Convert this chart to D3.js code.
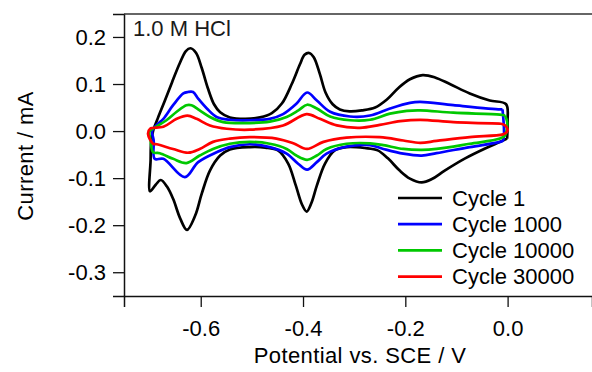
<!DOCTYPE html>
<html>
<head>
<meta charset="utf-8">
<script src="https://cdn.jsdelivr.net/npm/d3@7"></script>
<style>
  body { margin: 0; background: #fff; }
  svg { display: block; font-family: "Liberation Sans", Arial, sans-serif; }
</style>
</head>
<body>
<svg id="cv" width="592" height="372"></svg>
<script>
// potential (V vs SCE), current (mA) pairs, each loop read around the CV
let cycle1 = [
  [-0.001, -0.016], [-0.015, -0.023], [-0.044, -0.037], [-0.083, -0.058], [-0.123, -0.084],
  [-0.148, -0.102], [-0.168, -0.109], [-0.191, -0.101], [-0.211, -0.084], [-0.234, -0.058],
  [-0.254, -0.041], [-0.279, -0.036], [-0.314, -0.034], [-0.338, -0.041], [-0.357, -0.069],
  [-0.373, -0.116], [-0.384, -0.154], [-0.393, -0.171], [-0.402, -0.156], [-0.414, -0.116],
  [-0.429, -0.069], [-0.449, -0.041], [-0.474, -0.035], [-0.504, -0.034], [-0.543, -0.039],
  [-0.562, -0.052], [-0.582, -0.084], [-0.598, -0.133], [-0.611, -0.180], [-0.627, -0.210],
  [-0.640, -0.186], [-0.654, -0.144], [-0.666, -0.118], [-0.678, -0.104], [-0.688, -0.114],
  [-0.699, -0.128], [-0.698, -0.062], [-0.697, -0.024], [-0.693, 0.001], [-0.684, 0.027],
  [-0.670, 0.065], [-0.656, 0.104], [-0.641, 0.144], [-0.629, 0.170], [-0.620, 0.176],
  [-0.609, 0.166], [-0.598, 0.134], [-0.586, 0.091], [-0.574, 0.057], [-0.562, 0.040],
  [-0.543, 0.029], [-0.513, 0.026], [-0.484, 0.029], [-0.461, 0.038], [-0.441, 0.059],
  [-0.422, 0.100], [-0.406, 0.142], [-0.397, 0.162], [-0.388, 0.166], [-0.379, 0.157],
  [-0.367, 0.121], [-0.356, 0.082], [-0.342, 0.057], [-0.328, 0.046], [-0.309, 0.042],
  [-0.285, 0.044], [-0.259, 0.050], [-0.236, 0.067], [-0.214, 0.091], [-0.191, 0.110],
  [-0.166, 0.119], [-0.142, 0.114], [-0.113, 0.100], [-0.074, 0.080], [-0.035, 0.065],
  [-0.003, 0.057], [0.000, 0.023], [-0.001, -0.016]
];

let cycle1000 = [
  [-0.010, 0.046], [-0.009, -0.020], [-0.015, -0.023], [-0.074, -0.034], [-0.139, -0.047],
  [-0.168, -0.052], [-0.204, -0.048], [-0.243, -0.038], [-0.269, -0.030], [-0.315, -0.033],
  [-0.354, -0.048], [-0.373, -0.066], [-0.392, -0.082], [-0.409, -0.070], [-0.432, -0.048],
  [-0.465, -0.034], [-0.504, -0.028], [-0.543, -0.034], [-0.569, -0.045], [-0.605, -0.066],
  [-0.631, -0.098], [-0.673, -0.059], [-0.690, -0.059], [-0.692, -0.020], [-0.695, 0.001],
  [-0.685, 0.014], [-0.673, 0.026], [-0.654, 0.055], [-0.634, 0.080], [-0.625, 0.083],
  [-0.615, 0.083], [-0.605, 0.069], [-0.588, 0.048], [-0.569, 0.030], [-0.543, 0.024],
  [-0.504, 0.023], [-0.465, 0.026], [-0.439, 0.036], [-0.413, 0.058], [-0.392, 0.082],
  [-0.373, 0.065], [-0.347, 0.041], [-0.308, 0.031], [-0.269, 0.033], [-0.230, 0.048],
  [-0.191, 0.060], [-0.171, 0.062], [-0.106, 0.055], [-0.015, 0.046], [-0.010, 0.046]
];

let cycle10000 = [
  [-0.005, 0.033], [-0.001, 0.020], [-0.002, 0.001], [-0.005, -0.009], [-0.015, -0.016],
  [-0.074, -0.027], [-0.139, -0.038], [-0.168, -0.040], [-0.204, -0.038], [-0.243, -0.030],
  [-0.269, -0.026], [-0.315, -0.027], [-0.354, -0.038], [-0.373, -0.052], [-0.392, -0.061],
  [-0.413, -0.052], [-0.432, -0.038], [-0.465, -0.027], [-0.504, -0.023], [-0.543, -0.027],
  [-0.576, -0.038], [-0.602, -0.052], [-0.628, -0.068], [-0.654, -0.059], [-0.680, -0.047],
  [-0.693, -0.045], [-0.698, -0.020], [-0.700, -0.001], [-0.689, 0.008], [-0.667, 0.023],
  [-0.647, 0.041], [-0.628, 0.055], [-0.618, 0.055], [-0.602, 0.044], [-0.582, 0.030],
  [-0.556, 0.019], [-0.504, 0.017], [-0.465, 0.020], [-0.432, 0.030], [-0.409, 0.044],
  [-0.392, 0.056], [-0.373, 0.048], [-0.347, 0.031], [-0.308, 0.023], [-0.269, 0.024],
  [-0.230, 0.037], [-0.197, 0.043], [-0.171, 0.044], [-0.106, 0.039], [-0.015, 0.035],
  [-0.005, 0.033]
];

let cycle30000 = [
  [-0.015, 0.016], [-0.005, 0.012], [0.000, 0.004], [-0.002, -0.003], [-0.009, -0.007],
  [-0.074, -0.013], [-0.139, -0.021], [-0.171, -0.025], [-0.204, -0.020], [-0.250, -0.013],
  [-0.315, -0.014], [-0.360, -0.023], [-0.392, -0.038], [-0.419, -0.026], [-0.452, -0.016],
  [-0.504, -0.013], [-0.543, -0.016], [-0.576, -0.023], [-0.602, -0.038], [-0.624, -0.046],
  [-0.654, -0.038], [-0.686, -0.028], [-0.693, -0.027], [-0.703, -0.006], [-0.699, 0.005],
  [-0.673, 0.009], [-0.647, 0.026], [-0.626, 0.033], [-0.608, 0.026], [-0.582, 0.012],
  [-0.549, 0.005], [-0.504, 0.003], [-0.439, 0.012], [-0.393, 0.036], [-0.367, 0.026],
  [-0.334, 0.012], [-0.289, 0.007], [-0.250, 0.013], [-0.210, 0.021], [-0.171, 0.024],
  [-0.106, 0.019], [-0.015, 0.016]
];

let seriesNames = ["Cycle 1", "Cycle 1000", "Cycle 10000", "Cycle 30000"];
let seriesColors = ["#000000", "#0000ff", "#00c800", "#ff0000"];
let seriesData = [cycle1, cycle1000, cycle10000, cycle30000];

let xTicks = [-0.6, -0.4, -0.2, 0.0];
let xTickLabels = ["-0.6", "-0.4", "-0.2", "0.0"];
let yTicks = [0.2, 0.1, 0.0, -0.1, -0.2, -0.3];
let yTickLabels = ["0.2", "0.1", "0.0", "-0.1", "-0.2", "-0.3"];

let fontSize = "22px";

function getConfig() {
  let width = 592, height = 372;
  let margin = { top: 14, bottom: 76, left: 124, right: 0 };
  let container = d3.select("#cv");
  return { width, height, margin, container };
}

function getScales(config) {
  let { width, height, margin } = config;
  let xScale = d3.scaleLinear()
    .domain([-0.75, 0.165])
    .range([margin.left, width - margin.right]);
  let yScale = d3.scaleLinear()
    .domain([-0.3505, 0.2488])
    .range([height - margin.bottom, margin.top]);
  return { xScale, yScale };
}

function drawCurves(scales, config) {
  let { xScale, yScale } = scales;
  let line = d3.line()
    .x(d => xScale(d[0]))
    .y(d => yScale(d[1]))
    .curve(d3.curveCatmullRom.alpha(0.5));

  let g = config.container.append("g");
  g.selectAll("path.cv")
    .data(seriesData)
    .enter()
    .append("path")
    .attr("class", "cv")
    .attr("d", d => line(d))
    .attr("fill", "none")
    .attr("stroke", (d, i) => seriesColors[i])
    .attr("stroke-width", 2.7)
    .attr("stroke-linejoin", "round");
}

function drawAxes(scales, config) {
  let { xScale, yScale } = scales;
  let { container, margin, width, height } = config;

  let axisX = d3.axisBottom(xScale)
    .tickValues(xTicks)
    .tickFormat((d, i) => xTickLabels[i])
    .tickSize(11)
    .tickPadding(13);
  let gX = container.append("g")
    .attr("transform", `translate(0,${height - margin.bottom})`)
    .call(axisX);

  let axisY = d3.axisLeft(yScale)
    .tickValues(yTicks)
    .tickFormat((d, i) => yTickLabels[i])
    .tickSize(11)
    .tickPadding(7);
  let gY = container.append("g")
    .attr("transform", `translate(${margin.left},0)`)
    .call(axisY);

  [gX, gY].forEach(g => {
    g.selectAll("path.domain").attr("stroke", "#111").attr("stroke-width", 1.5);
    g.selectAll(".tick line").attr("stroke", "#111").attr("stroke-width", 1.3);
    g.selectAll(".tick text")
      .attr("fill", "#000")
      .style("font-size", fontSize)
      .style("font-family", "'Liberation Sans', Arial, sans-serif");
  });

  // frame top edge
  container.append("line")
    .attr("x1", margin.left).attr("x2", width)
    .attr("y1", margin.top).attr("y2", margin.top)
    .attr("stroke", "#333").attr("stroke-width", 1.5);

  container.append("text")
    .attr("x", 360).attr("y", 363)
    .attr("text-anchor", "middle")
    .style("font-size", fontSize)
    .style("letter-spacing", "0.4px")
    .text("Potential vs. SCE / V");

  container.append("text")
    .attr("transform", "translate(33,156) rotate(-90)")
    .attr("text-anchor", "middle")
    .style("font-size", fontSize)
    .style("letter-spacing", "0.4px")
    .text("Current / mA");

  container.append("text")
    .attr("x", 133).attr("y", 36)
    .style("font-size", fontSize)
    .attr("fill", "#1a1a1a")
    .text("1.0 M HCl");
}

function drawLegend(config) {
  let g = config.container.append("g");
  let rows = g.selectAll("g.row")
    .data(seriesNames)
    .enter()
    .append("g")
    .attr("transform", (d, i) => `translate(398,${198 + i * 26.2})`);
  rows.append("line")
    .attr("x1", 0).attr("x2", 44)
    .attr("stroke", (d, i) => seriesColors[i])
    .attr("stroke-width", 2.7);
  rows.append("text")
    .attr("x", 54).attr("dy", "0.35em")
    .style("font-size", fontSize)
    .text(d => d);
}

let store = {};
store.config = getConfig();
store.scales = getScales(store.config);
drawCurves(store.scales, store.config);
drawAxes(store.scales, store.config);
drawLegend(store.config);
</script>
</body>
</html>
